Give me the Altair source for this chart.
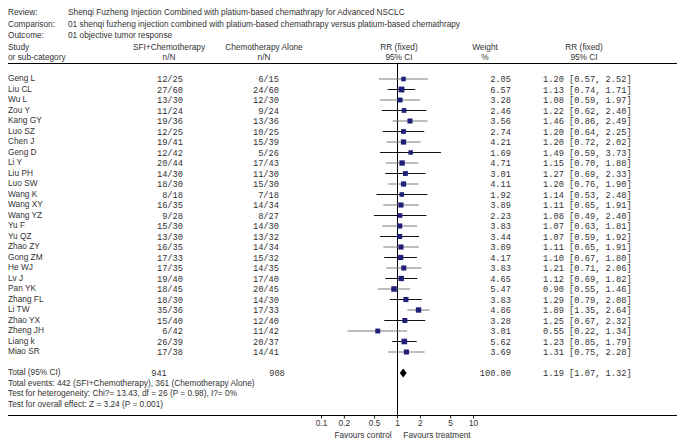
import altair as alt
import pandas as pd

# ---------------- data ----------------
studies = ["Geng L", "Liu CL", "Wu L", "Zou Y", "Kang GY", "Luo SZ", "Chen J", "Geng D",
           "Li Y", "Liu PH", "Luo SW", "Wang K", "Wang XY", "Wang YZ", "Yu F", "Yu QZ",
           "Zhao ZY", "Gong ZM", "He WJ", "Lv J", "Pan YK", "Zhang FL", "Li TW", "Zhao YX",
           "Zheng JH", "Liang k", "Miao SR"]
sfi_events = [12, 27, 13, 11, 19, 12, 19, 12, 20, 14, 18, 8, 16, 9, 15, 13, 16, 17, 17, 19, 18, 18, 35, 15, 6, 26, 17]
sfi_total = [25, 60, 30, 24, 36, 25, 41, 42, 44, 30, 30, 18, 35, 28, 30, 30, 35, 33, 35, 40, 45, 30, 36, 40, 42, 39, 38]
ctl_events = [6, 24, 12, 9, 13, 10, 15, 5, 17, 11, 15, 7, 14, 8, 14, 13, 14, 15, 14, 17, 20, 14, 17, 12, 11, 20, 14]
ctl_total = [15, 60, 30, 24, 36, 25, 39, 26, 43, 30, 30, 18, 34, 27, 30, 32, 34, 32, 35, 40, 45, 30, 33, 40, 42, 37, 41]
weights = [2.05, 6.57, 3.28, 2.46, 3.56, 2.74, 4.21, 1.69, 4.71, 3.01, 4.11, 1.92, 3.89, 2.23, 3.83, 3.44,
           3.89, 4.17, 3.83, 4.65, 5.47, 3.83, 4.86, 3.28, 3.01, 5.62, 3.69]
rr = [1.20, 1.13, 1.08, 1.22, 1.46, 1.20, 1.20, 1.49, 1.15, 1.27, 1.20, 1.14, 1.11, 1.08, 1.07, 1.07,
      1.11, 1.10, 1.21, 1.12, 0.90, 1.29, 1.89, 1.25, 0.55, 1.23, 1.31]
rr_lo = [0.57, 0.74, 0.59, 0.62, 0.86, 0.64, 0.72, 0.59, 0.70, 0.69, 0.76, 0.53, 0.65, 0.49, 0.63, 0.59,
         0.65, 0.67, 0.71, 0.69, 0.55, 0.79, 1.35, 0.67, 0.22, 0.85, 0.75]
rr_hi = [2.52, 1.71, 1.97, 2.40, 2.49, 2.25, 2.02, 3.73, 1.88, 2.33, 1.90, 2.48, 1.91, 2.40, 1.81, 1.92,
         1.91, 1.80, 2.06, 1.82, 1.46, 2.08, 2.64, 2.32, 1.34, 1.79, 2.28]

total_sfi = 941
total_ctl = 908
total_weight = 100.00
total_rr, total_lo, total_hi = 1.19, 1.07, 1.32

tick_values = [0.1, 0.2, 0.5, 1, 2, 5, 10]
tick_labels = ["0.1", "0.2", "0.5", "1", "2", "5", "10"]

header_lines = [
    ("Review:", "Shenqi Fuzheng Injection Combined with platium-based chemathrapy for Advanced NSCLC"),
    ("Comparison:", "01 shenqi fuzheng injection combined with platium-based chemathrapy versus  platium-based chemathrapy"),
    ("Outcome:", "01 objective tumor response"),
]
footer_lines = [
    "Total events: 442 (SFI+Chemotherapy), 361 (Chemotherapy Alone)",
    "Test for heterogeneity: Chi?= 13.43, df = 26 (P = 0.98), I?= 0%",
    "Test for overall effect: Z = 3.24 (P = 0.001)",
]
favours = ["Favours control", "Favours treatment"]

# ---------------- tables ----------------
rows = pd.DataFrame({
    "row": list(range(len(studies))),
    "study": studies,
    "sfi": [f"{a}/{b}" for a, b in zip(sfi_events, sfi_total)],
    "ctl": [f"{a}/{b}" for a, b in zip(ctl_events, ctl_total)],
    "weight": weights,
    "wtxt": [f"{w:.2f}" for w in weights],
    "rr": rr, "lo": rr_lo, "hi": rr_hi,
    "rrtxt": [f"{r:.2f} [{l:.2f}, {h:.2f}]" for r, l, h in zip(rr, rr_lo, rr_hi)],
    "shade": ["even" if i % 2 == 0 else "odd" for i in range(len(studies))],
})
total_row = len(studies) + 1
half = 0.43
diamond = pd.DataFrame({
    "x": [total_lo, total_rr, total_hi],
    "y": [total_row, total_row - half, total_row],
    "y2": [total_row, total_row + half, total_row],
})
total_df = pd.DataFrame({
    "row": [total_row], "label": ["Total (95% CI)"], "sfi": [str(total_sfi)], "ctl": [str(total_ctl)],
    "wtxt": [f"{total_weight:.2f}"], "rrtxt": [f"{total_rr:.2f} [{total_lo:.2f}, {total_hi:.2f}]"],
})
footer_df = pd.DataFrame({"row": [total_row + 1 + i for i in range(len(footer_lines))], "text": footer_lines})
ticks_df = pd.DataFrame({"v": tick_values, "lab": tick_labels})

# ---------------- styling ----------------
SANS = "Liberation Sans"
MONO = "Liberation Mono"
FS = 8.3
MFS = 8.7
TXT = "#333333"

xscale = alt.Scale(type="log", domain=[0.01, 100], range=[237.5, 541.5])
yscale = alt.Scale(domain=[0, len(studies) - 1], range=[71, 344])
Y = alt.Y("row:Q", scale=yscale, axis=None)
AXIS_Y = 407.5


def txt(data, field, x, align="left", font=MONO, size=MFS):
    return alt.Chart(data).mark_text(align=align, baseline="middle", font=font, fontSize=size,
                                     color=TXT).encode(x=alt.value(x), y=Y, text=f"{field}:N")


def label(t, x, y, align="left"):
    return alt.Chart(pd.DataFrame({"t": [t]})).mark_text(
        align=align, baseline="middle", font=SANS, fontSize=FS, color=TXT).encode(
        x=alt.value(x), y=alt.value(y), text="t:N")


# tick marks and labels drawn through the x scale
tick_marks = alt.Chart(ticks_df).mark_rule(color="#222", strokeWidth=1).encode(
    x=alt.X("v:Q", scale=xscale, axis=None), y=alt.value(AXIS_Y), y2=alt.value(AXIS_Y + 3))
tick_text = alt.Chart(ticks_df).mark_text(baseline="middle", align="center", font=SANS, fontSize=FS,
                                          color=TXT).encode(
    x=alt.X("v:Q", scale=xscale, axis=None), y=alt.value(416), text="lab:N")

null_line = alt.Chart(pd.DataFrame({"v": [1.0]})).mark_rule(color="black", strokeWidth=1).encode(
    x=alt.X("v:Q", scale=xscale, axis=None), y=alt.value(55.5), y2=alt.value(AXIS_Y))

ci = alt.Chart(rows).mark_rule(strokeWidth=1).encode(
    x=alt.X("lo:Q", scale=xscale, axis=None), x2="hi:Q", y=Y,
    color=alt.Color("shade:N", scale=alt.Scale(domain=["even", "odd"], range=["#7a7a7a", "#111111"]),
                    legend=None))

squares = alt.Chart(rows).mark_square(color="#1f1f7a", opacity=1).encode(
    x=alt.X("rr:Q", scale=xscale, axis=None), y=Y,
    size=alt.Size("weight:Q", scale=alt.Scale(domain=[1.69, 6.57], range=[20, 34]), legend=None))

dia = alt.Chart(diamond).mark_area(color="black", opacity=1, orient="vertical").encode(
    x=alt.X("x:Q", scale=xscale, axis=None),
    y=alt.Y("y:Q", scale=yscale, axis=None), y2="y2:Q")

hline_top = alt.Chart(pd.DataFrame({"a": [0]})).mark_rule(color="black").encode(
    x=alt.value(0), x2=alt.value(670), y=alt.value(55.5))
hline_bot = alt.Chart(pd.DataFrame({"a": [0]})).mark_rule(color="black").encode(
    x=alt.value(0), x2=alt.value(672), y=alt.value(AXIS_Y))

# header texts
hdr = []
for i, (k, v) in enumerate(header_lines):
    yy = 5 + 11.5 * i
    hdr.append(label(k, 0, yy))
    hdr.append(label(v, 60, yy))

col_heads = [
    ("Study", "or sub-category", 0, "left"),
    ("SFI+Chemotherapy", "n/N", 161, "center"),
    ("Chemotherapy Alone", "n/N", 256, "center"),
    ("RR (fixed)", "95% CI", 391, "center"),
    ("Weight", "%", 477, "center"),
    ("RR (fixed)", "95% CI", 576, "center"),
]
for a, b, x, al in col_heads:
    hdr.append(label(a, x, 39.5, al))
    hdr.append(label(b, x, 49.5, al))

study_txt = txt(rows, "study", 0, font=SANS, size=FS)
sfi_txt = txt(rows, "sfi", 175, align="right")
ctl_txt = txt(rows, "ctl", 271, align="right")
w_txt = txt(rows, "wtxt", 503, align="right")
rr_txt = txt(rows, "rrtxt", 535)

tot_label = txt(total_df, "label", 0, font=SANS, size=FS)
tot_sfi = txt(total_df, "sfi", 151, align="center")
tot_ctl = txt(total_df, "ctl", 269, align="center")
tot_w = txt(total_df, "wtxt", 503, align="right")
tot_rr = txt(total_df, "rrtxt", 535)
foot = txt(footer_df, "text", 0, font=SANS, size=FS)

fav = [label(favours[0], 355, 428, "center"), label(favours[1], 429, 428, "center")]

chart = alt.layer(
    hline_top, hline_bot, null_line, tick_marks, tick_text, ci, squares, dia,
    *hdr, study_txt, sfi_txt, ctl_txt, w_txt, rr_txt,
    tot_label, tot_sfi, tot_ctl, tot_w, tot_rr, foot, *fav,
).properties(
    width=669, height=407,
    autosize=alt.AutoSizeParams(type="none"),
    padding={"left": 0, "top": 0, "right": 0, "bottom": 26},
).configure_view(stroke=None)

chart.save("out.html", embed_options={"renderer": "svg", "actions": False})
